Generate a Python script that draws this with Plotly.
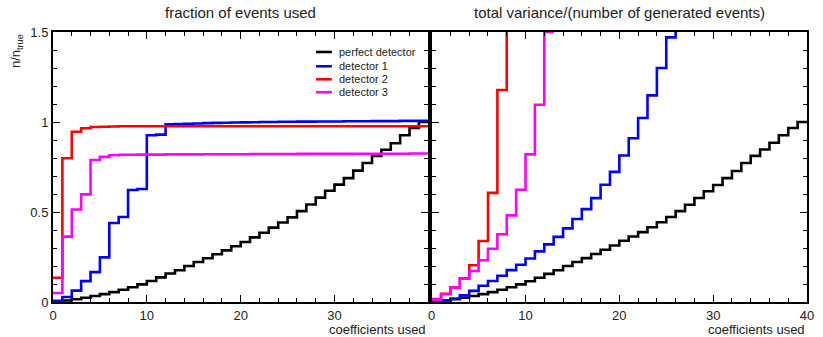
import plotly.graph_objects as go
from plotly.subplots import make_subplots

# ---- data ----
bin_edges = list(range(0, 41))  # coefficients used, bins of width 1 from 0 to 40

series_names = ["perfect detector", "detector 1", "detector 2", "detector 3"]
series_colors = ["#000000", "#0000ff", "#ff0000", "#ff00ff"]

# left panel: fraction of events used
frac_perfect = [0.003, 0.008, 0.015, 0.024, 0.033, 0.044, 0.055, 0.068, 0.082, 0.098,
                0.117, 0.137, 0.158, 0.176, 0.200, 0.222, 0.243, 0.265, 0.287, 0.310,
                0.333, 0.359, 0.385, 0.413, 0.442, 0.470, 0.505, 0.542, 0.580, 0.618,
                0.652, 0.688, 0.730, 0.772, 0.812, 0.846, 0.882, 0.926, 0.967, 1.000]
frac_det1 = [0.006, 0.028, 0.063, 0.116, 0.166, 0.248, 0.439, 0.472, 0.622, 0.628,
             0.926, 0.930, 0.987, 0.988, 0.990, 0.992, 0.994, 0.995, 0.996, 0.997,
             0.998, 0.999, 1.000, 1.000, 1.001, 1.001, 1.002, 1.002, 1.003, 1.003,
             1.003, 1.004, 1.004, 1.004, 1.005, 1.005, 1.005, 1.006, 1.006, 1.006]
frac_det2 = [0.135, 0.799, 0.946, 0.965, 0.972, 0.974, 0.975, 0.976, 0.976, 0.976,
             0.976, 0.976, 0.976, 0.976, 0.976, 0.976, 0.976, 0.976, 0.976, 0.976,
             0.976, 0.976, 0.976, 0.976, 0.976, 0.976, 0.976, 0.976, 0.976, 0.976,
             0.976, 0.976, 0.976, 0.976, 0.976, 0.976, 0.976, 0.976, 0.976, 0.976]
frac_det3 = [0.050, 0.363, 0.514, 0.598, 0.789, 0.806, 0.815, 0.818, 0.818, 0.819,
             0.819, 0.819, 0.820, 0.820, 0.820, 0.820, 0.821, 0.821, 0.821, 0.821,
             0.821, 0.822, 0.822, 0.822, 0.822, 0.822, 0.823, 0.823, 0.823, 0.823,
             0.823, 0.823, 0.824, 0.824, 0.824, 0.824, 0.824, 0.824, 0.825, 0.825]

# right panel: total variance / (number of generated events); last entries run off the top
var_perfect = [0.003, 0.008, 0.015, 0.024, 0.033, 0.044, 0.055, 0.068, 0.082, 0.098,
               0.115, 0.135, 0.156, 0.176, 0.200, 0.222, 0.244, 0.267, 0.290, 0.314,
               0.340, 0.364, 0.388, 0.415, 0.443, 0.472, 0.505, 0.540, 0.578, 0.615,
               0.650, 0.688, 0.728, 0.772, 0.812, 0.847, 0.885, 0.926, 0.967, 1.000]
var_det1 = [0.005, 0.010, 0.019, 0.037, 0.062, 0.090, 0.117, 0.146, 0.177, 0.207,
            0.242, 0.281, 0.320, 0.362, 0.409, 0.461, 0.516, 0.577, 0.651, 0.723,
            0.814, 0.910, 1.022, 1.148, 1.300, 1.470, 1.600]
var_det2 = [0.016, 0.046, 0.081, 0.131, 0.204, 0.339, 0.606, 1.178, 1.600]
var_det3 = [0.013, 0.043, 0.080, 0.130, 0.172, 0.232, 0.296, 0.376, 0.481, 0.624,
            0.820, 1.096, 1.500]

x_tick_vals_left = [0, 10, 20, 30]
x_tick_text_left = ["0", "10", "20", "30"]
x_tick_vals_right = [0, 10, 20, 30, 40]
x_tick_text_right = ["0", "10", "20", "30", "40"]
y_tick_vals = [0, 0.5, 1, 1.5]
y_tick_text = ["0", "0.5", "1", "1.5"]

FONT = "Liberation Sans, Arial, sans-serif"
TXT = "#222222"

fig = make_subplots(rows=1, cols=2, horizontal_spacing=0.0045)


def step_trace(vals, color, name):
    xs = bin_edges[:len(vals) + 1]
    ys = list(vals) + [vals[-1]]
    return go.Scatter(x=xs, y=ys, mode="lines", line=dict(color=color, width=2.6, shape="hv"),
                      name=name, showlegend=False, hoverinfo="skip")


left_sets = [frac_perfect, frac_det1, frac_det2, frac_det3]
right_sets = [var_perfect, var_det1, var_det2, var_det3]
for vals, col, nm in zip(left_sets, series_colors, series_names):
    fig.add_trace(step_trace(vals, col, nm), row=1, col=1)
for vals, col, nm in zip(right_sets, series_colors, series_names):
    fig.add_trace(step_trace(vals, col, nm), row=1, col=2)

common_x = dict(range=[0, 40], showgrid=False, zeroline=False, ticks="inside", ticklen=7,
                tickwidth=1, tickcolor="#000", showline=True, linewidth=2, linecolor="#000",
                mirror="ticks",
                minor=dict(dtick=2, tick0=0, ticks="inside", ticklen=4, tickcolor="#000", showgrid=False),
                tickfont=dict(family=FONT, size=13, color=TXT), tickmode="array")
common_y = dict(range=[0, 1.5], showgrid=False, zeroline=False, ticks="inside", ticklen=7,
                tickwidth=1, tickcolor="#000", showline=True, linewidth=2, linecolor="#000",
                mirror="ticks", tickmode="array", tickvals=y_tick_vals,
                minor=dict(dtick=0.1, tick0=0, ticks="inside", ticklen=4, tickcolor="#000", showgrid=False),
                tickfont=dict(family=FONT, size=13, color=TXT))

fig.update_xaxes(**common_x, tickvals=x_tick_vals_left, ticktext=x_tick_text_left, row=1, col=1)
fig.update_xaxes(**common_x, tickvals=x_tick_vals_right, ticktext=x_tick_text_right, row=1, col=2)
fig.update_yaxes(**common_y, ticktext=y_tick_text, row=1, col=1)
fig.update_yaxes(**common_y, showticklabels=False, row=1, col=2)

annotations = [
    dict(text="fraction of events used", xref="x domain", yref="paper", x=0.5, y=1.073,
         xanchor="center", yanchor="middle", showarrow=False,
         font=dict(family=FONT, size=15, color=TXT)),
    dict(text="total variance/(number of generated events)", xref="x2 domain", yref="paper",
         x=0.5, y=1.073, xanchor="center", yanchor="middle", showarrow=False,
         font=dict(family=FONT, size=15, color=TXT)),
    dict(text="coefficients used", xref="x domain", yref="paper", x=1.0, y=-0.102,
         xanchor="right", yanchor="middle", showarrow=False,
         font=dict(family=FONT, size=13, color=TXT)),
    dict(text="coefficients used", xref="x2 domain", yref="paper", x=1.0, y=-0.102,
         xanchor="right", yanchor="middle", showarrow=False,
         font=dict(family=FONT, size=13, color=TXT)),
    dict(text="n/n<sub>true</sub>", xref="paper", yref="paper", x=-0.049, y=1.0,
         xanchor="center", yanchor="top", textangle=-90, showarrow=False,
         font=dict(family=FONT, size=13, color=TXT)),
]

# compact ROOT-style legend in the left panel
legend_rows = [0.926, 0.873, 0.825, 0.777]
shapes = []
for nm, col, yy in zip(series_names, series_colors, legend_rows):
    shapes.append(dict(type="line", xref="x domain", yref="y domain", x0=0.701, x1=0.743,
                       y0=yy, y1=yy, line=dict(color=col, width=2.6)))
    annotations.append(dict(text=nm, xref="x domain", yref="y domain", x=0.756, y=yy,
                            xanchor="left", yanchor="middle", showarrow=False,
                            font=dict(family=FONT, size=11, color=TXT)))

fig.update_layout(width=823, height=337, margin=dict(l=53, r=9, t=32, b=35),
                  plot_bgcolor="white", paper_bgcolor="white", showlegend=False,
                  annotations=annotations, shapes=shapes)

fig.write_html("out.html", config={"displayModeBar": False},
               post_script="document.body.style.margin='0px';document.body.style.padding='0px';")
